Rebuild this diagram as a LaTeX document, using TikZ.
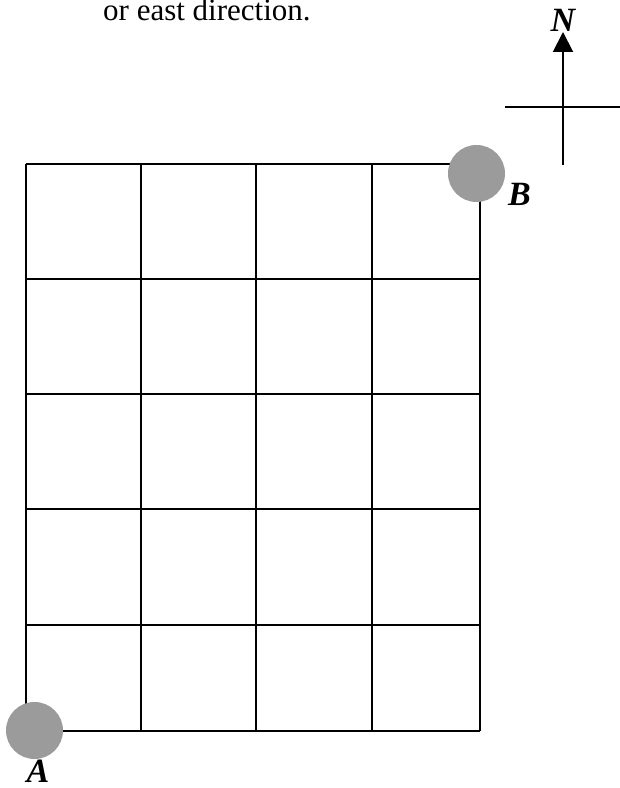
\documentclass[tikz,border=0pt]{standalone}
\usepackage{fontspec}
\setmainfont{Liberation Serif}
\usetikzlibrary{arrows.meta}
\definecolor{dotgray}{RGB}{155,155,155}
\tikzset{
  gridline/.style={line width=2pt, black},
  dot/.style={circle, fill=dotgray, minimum size=57pt, inner sep=0pt},
  ptlabel/.style={font=\fontsize{34}{38}\selectfont\bfseries\itshape, inner sep=0pt},
  compass/.style={line width=2pt, black}
}
\begin{document}
\begin{tikzpicture}[x=1pt,y=1pt]
\useasboundingbox (0,0) rectangle (620,788);
% top text
\node[anchor=base west, inner sep=0pt, font=\fontsize{31}{36}\selectfont] (txt) at (103,767) {or east direction.};
% grid
\foreach \x in {25.5,141,256,371.5,479.5} {
  \draw[gridline] (\x,57) -- (\x,624);
}
\foreach \y in {57,163,278.5,393.5,508.5,624} {
  \draw[gridline] (25.5,\y) -- (479.5,\y);
}
% dots
\node[dot] (A) at (34.5,57.5) {};
\node[dot] (B) at (476.5,614.5) {};
\node[ptlabel] (Alab) at (38,16.5) {A};
\node[ptlabel] (Blab) at (519.5,594) {B};
% compass
\coordinate (cs) at (563,623);
\coordinate (cn) at (563,756);
\coordinate (cw) at (505,681);
\coordinate (ce) at (620,681);
\draw[compass, -{Triangle[length=20pt,width=20pt]}] (cs) -- (cn);
\draw[compass] (cw) -- (ce);
\node[ptlabel] (N) at (563,768) {N};
\end{tikzpicture}
\end{document}
